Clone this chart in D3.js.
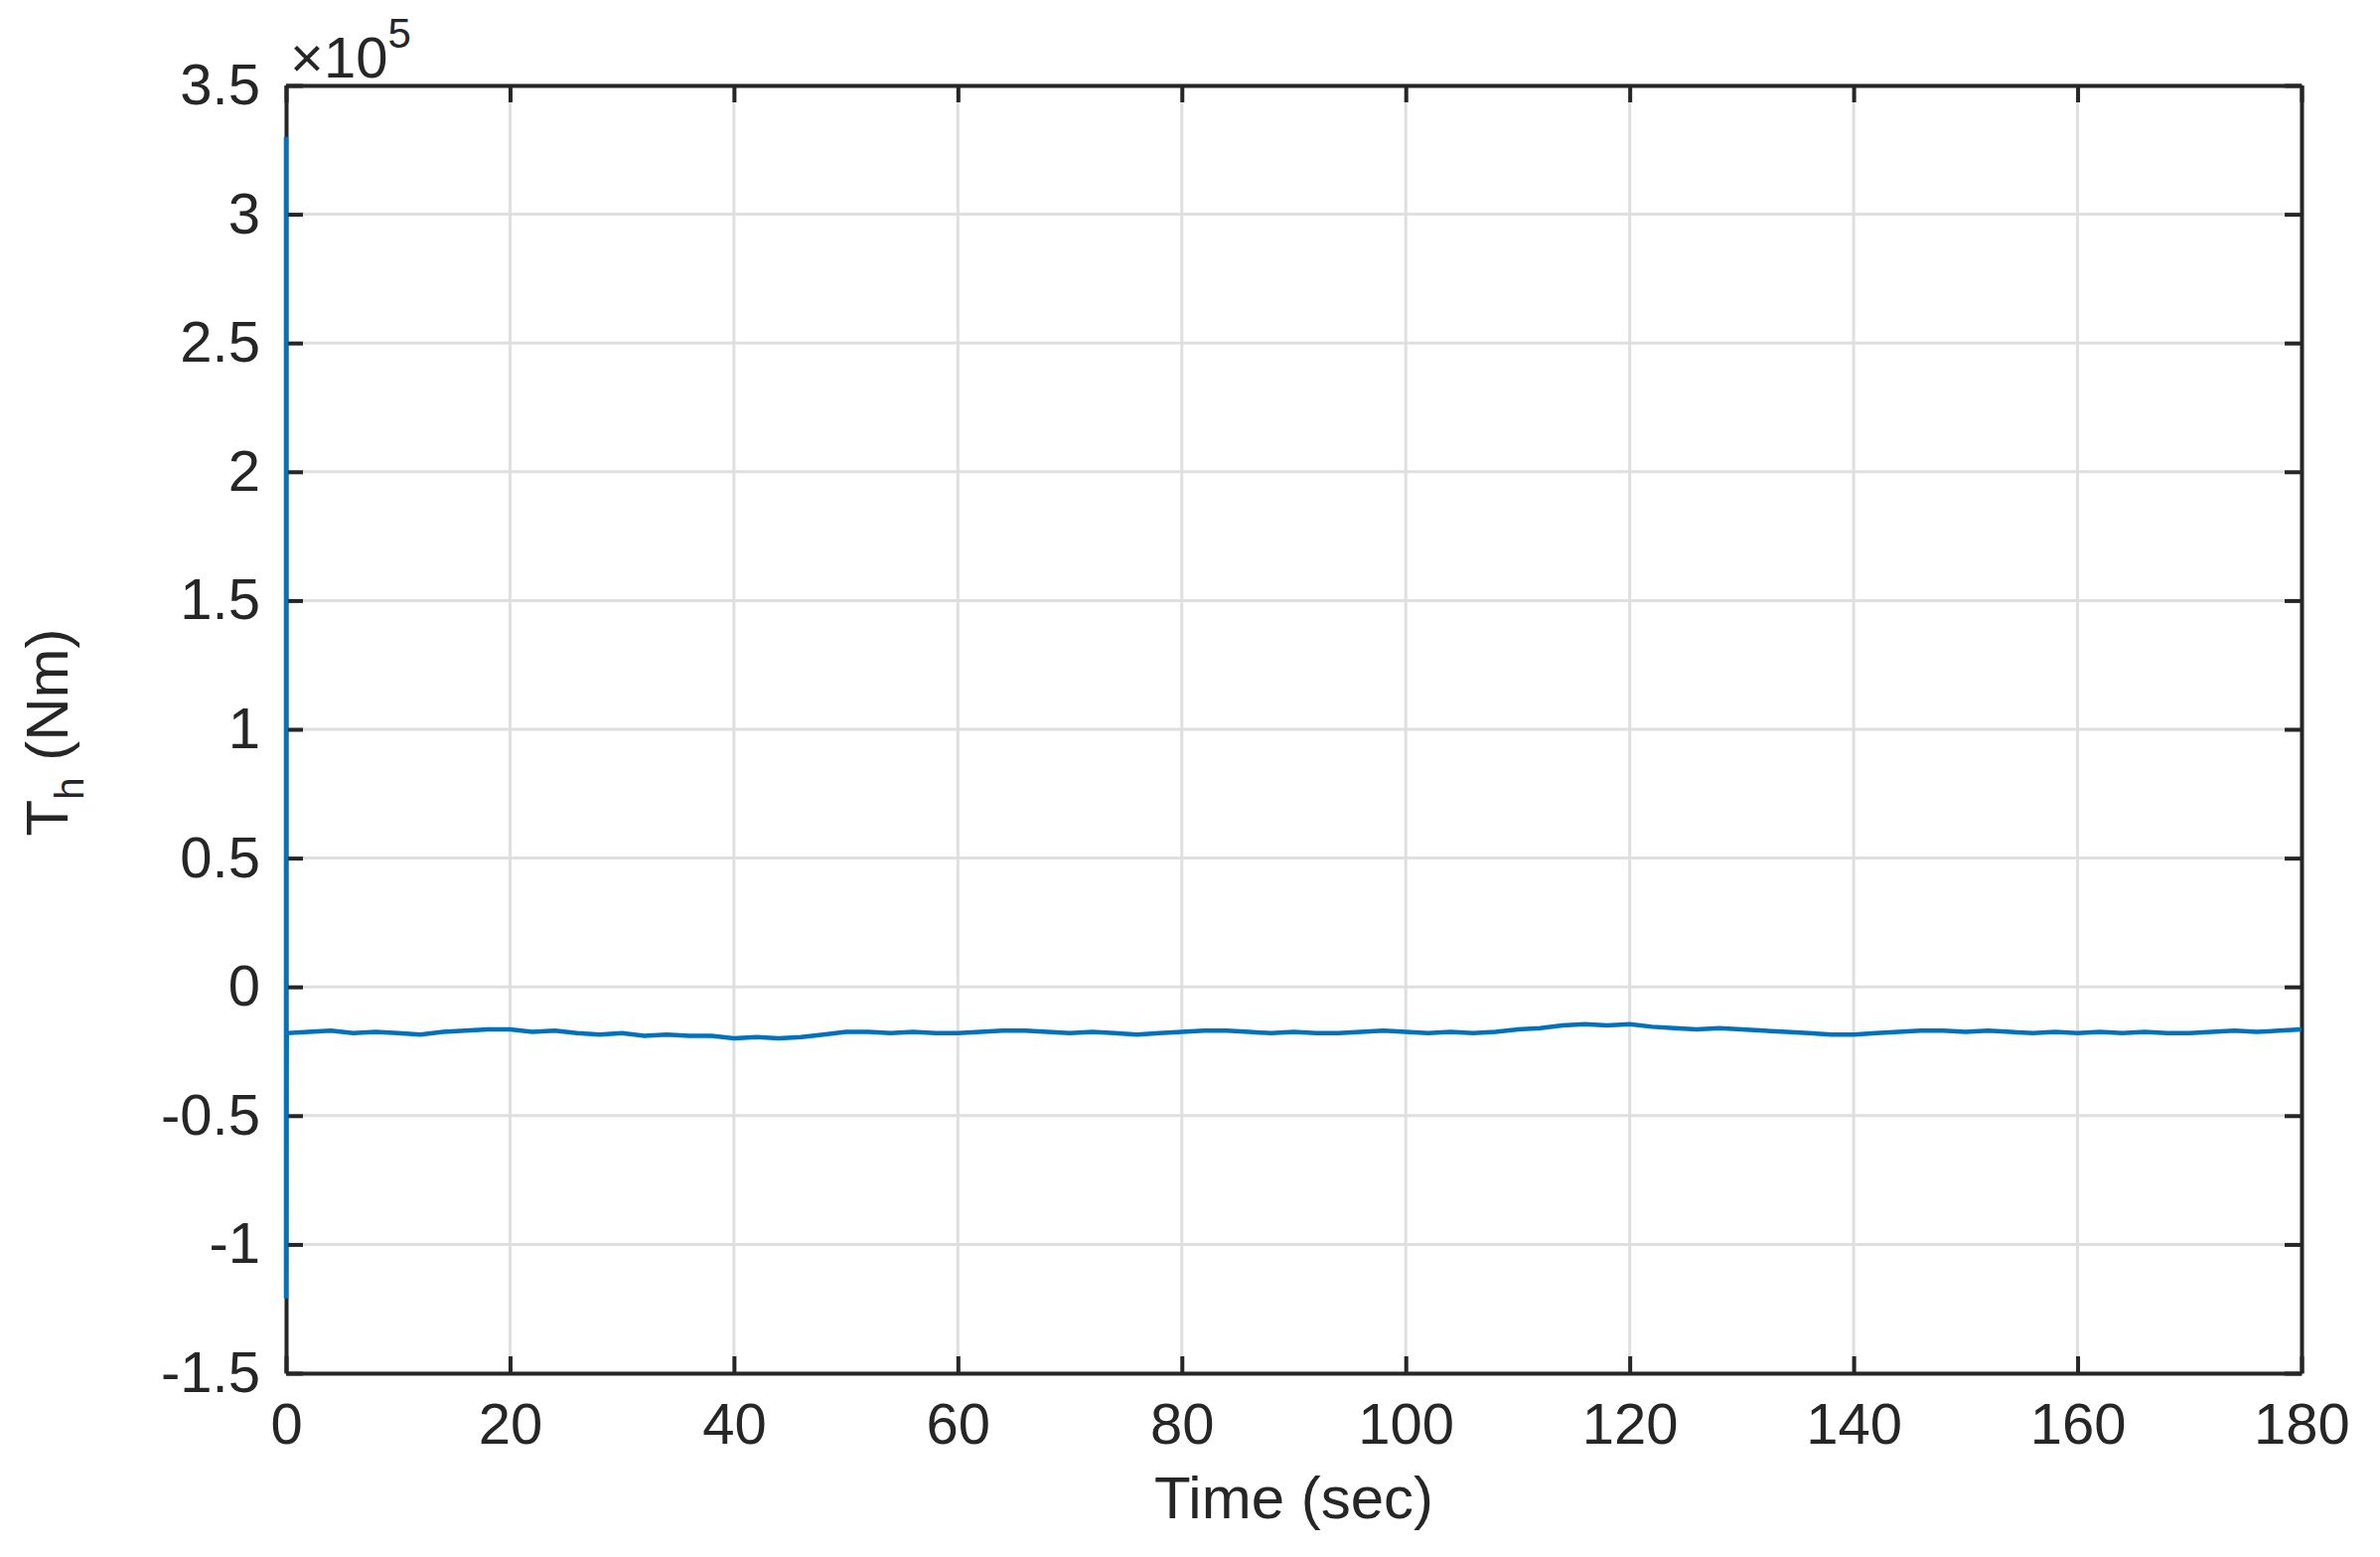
<!DOCTYPE html>
<html><head><meta charset="utf-8">
<script src="https://cdn.jsdelivr.net/npm/d3@7"></script>
<style>body{margin:0;background:#fff}text{font-family:"Liberation Sans",Arial,sans-serif;fill:#262626}</style>
</head><body><svg id="c" width="2396" height="1567"></svg>
<script>
const xTicks=[0,20,40,60,80,100,120,140,160,180];
const yTicks=[-1.5,-1,-0.5,0,0.5,1,1.5,2,2.5,3,3.5];
const yTickLabels=["-1.5","-1","-0.5","0","0.5","1","1.5","2","2.5","3","3.5"];
const startTimes=[0,0,0.02,0.05];
const startValues=[3.3,-1.21,-0.4,-0.18];
const times=d3.range(0,181,2);
const values=[-0.18,-0.175,-0.17,-0.18,-0.175,-0.18,-0.185,-0.175,-0.17,-0.165,-0.165,-0.175,-0.17,-0.18,-0.185,-0.18,-0.19,-0.185,-0.19,-0.19,-0.2,-0.195,-0.2,-0.195,-0.185,-0.175,-0.175,-0.18,-0.175,-0.18,-0.18,-0.175,-0.17,-0.17,-0.175,-0.18,-0.175,-0.18,-0.185,-0.18,-0.175,-0.17,-0.17,-0.175,-0.18,-0.175,-0.18,-0.18,-0.175,-0.17,-0.175,-0.18,-0.175,-0.18,-0.175,-0.165,-0.16,-0.15,-0.145,-0.15,-0.145,-0.155,-0.16,-0.165,-0.16,-0.165,-0.17,-0.175,-0.18,-0.185,-0.185,-0.18,-0.175,-0.17,-0.17,-0.175,-0.17,-0.175,-0.18,-0.175,-0.18,-0.175,-0.18,-0.175,-0.18,-0.18,-0.175,-0.17,-0.175,-0.17,-0.165];

const L=288,R=2317,T=86,B=1382;
const svg=d3.select("#c");
const x=d3.scaleLinear().domain([0,180]).range([L,R]);
const y=d3.scaleLinear().domain([-1.5,3.5]).range([B,T]);
const g=svg.append("g");
g.selectAll(".gx").data(xTicks).join("line").attr("x1",d=>x(d)).attr("x2",d=>x(d)).attr("y1",T).attr("y2",B).attr("stroke","#dfdfdf").attr("stroke-width",3);
g.selectAll(".gy").data(yTicks).join("line").attr("y1",d=>y(d)).attr("y2",d=>y(d)).attr("x1",L).attr("x2",R).attr("stroke","#dfdfdf").attr("stroke-width",3);
const fmt=(d)=>yTickLabels[yTicks.indexOf(d)];
const axB=d3.axisBottom(x).tickValues(xTicks).tickSizeInner(-17).tickSizeOuter(0).tickPadding(30);
const axT=d3.axisTop(x).tickValues(xTicks).tickSizeInner(-17).tickSizeOuter(0).tickFormat("");
const axL=d3.axisLeft(y).tickValues(yTicks).tickFormat(fmt).tickSizeInner(-17).tickSizeOuter(0).tickPadding(26);
const axR=d3.axisRight(y).tickValues(yTicks).tickSizeInner(-17).tickSizeOuter(0).tickFormat("");
[[axB,`translate(0,${B})`],[axT,`translate(0,${T})`],[axL,`translate(${L},0)`],[axR,`translate(${R},0)`]].forEach(([a,tr])=>{
  const s=svg.append("g").attr("transform",tr).call(a);
  s.select(".domain").attr("stroke","#262626").attr("stroke-width",4);
  s.selectAll(".tick line").attr("stroke","#262626").attr("stroke-width",4);
  s.selectAll("text").attr("font-size",58).attr("fill","#262626").style("font-family","Liberation Sans, Arial, sans-serif");
});
const pts=startTimes.map((t,i)=>[t,startValues[i]]).concat(times.map((t,i)=>[t,values[i]]).filter(p=>p[0]>0.05));
svg.append("path").datum(pts).attr("d",d3.line().x(d=>x(d[0])).y(d=>y(d[1]))).attr("fill","none").attr("stroke","#0072bd").attr("stroke-width",4.5);
svg.append("text").attr("x",(L+R)/2).attr("y",1528).attr("text-anchor","middle").attr("font-size",60).text("Time (sec)");
const yl=svg.append("text").attr("transform","translate(68,737) rotate(-90)").attr("text-anchor","middle").attr("font-size",60);
yl.append("tspan").text("T");
yl.append("tspan").attr("font-size",40).attr("dy",16).text("h");
yl.append("tspan").attr("dy",-16).text(" (Nm)");
const ex=svg.append("text").attr("x",292).attr("y",78).attr("font-size",58);
ex.append("tspan").text("\u00d7");
ex.append("tspan").text("10");
ex.append("tspan").attr("font-size",42).attr("dy",-30).text("5");
</script></body></html>
